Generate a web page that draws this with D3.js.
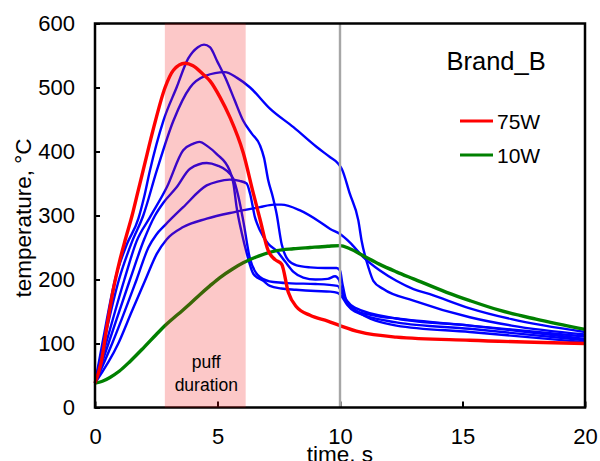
<!DOCTYPE html>
<html>
<head>
<meta charset="utf-8">
<script src="https://cdn.jsdelivr.net/npm/d3@7/dist/d3.min.js"></script>
<style>
  html, body { margin: 0; padding: 0; background: #fff; }
  svg { display: block; font-family: "Liberation Sans", Arial, sans-serif; }
</style>
</head>
<body>
<svg id="chart" width="600" height="461"></svg>
<script>
// Thermocouple temperature traces, [time s, temperature °C]
const red75W = [[0,38],[0.25,70],[0.5,130],[0.75,185],[1.0,228],[1.25,264],[1.5,298],[1.75,337],[2.0,376],[2.4,438],[2.86,500],[3.2,527],[3.67,538],[4.0,534],[4.4,521],[4.7,510],[5.1,485],[5.5,454],[6.05,398],[6.46,335],[6.73,295],[7.07,245],[7.35,231],[7.62,224],[7.89,180],[8.23,157],[8.78,144],[9.5,135],[10,128],[10.8,118],[12.3,110],[15.3,105],[20,100]];

const green10W = [[0,38],[0.3,41],[0.61,47],[1.0,57],[1.43,72],[2.0,94],[2.5,114],[2.86,128],[3.4,146],[3.88,162],[4.3,177],[4.69,190],[5.1,203],[5.6,216],[6.05,226],[6.7,237],[7.41,245],[8.1,248],[8.78,250],[9.5,252],[10,253],[10.4,248],[11,236],[11.6,224],[12.3,212],[13,201],[14.35,180],[15.3,167],[16.5,152],[18,138],[20,122]];

// Additional runs (blue)
const runA = [[0,38],[0.3,100],[0.82,200],[1.3,255],[1.77,295],[2.0,328],[2.24,370],[2.79,448],[3.33,500],[3.8,545],[4.2,563],[4.45,567],[4.69,563],[5.0,540],[5.37,511],[5.7,480],[6.05,448],[6.4,428],[6.73,410],[6.9,390],[7.07,355],[7.25,330],[7.41,303],[7.62,255],[7.89,230],[8.23,222],[8.78,219],[9.4,218],[9.86,218],[10.0,214],[10.1,193],[10.3,162],[10.6,152],[11.5,143],[12.3,139],[15.3,128],[20,111]];

const runB = [[0,38],[0.35,100],[0.98,200],[1.5,258],[1.97,300],[2.52,370],[3.2,448],[3.88,500],[4.5,518],[5.3,524],[5.8,515],[6.33,500],[7.14,467],[8.1,438],[9.05,407],[9.6,391],[9.93,381],[10.07,373],[10.4,334],[10.75,292],[10.88,261],[11.16,219],[11.36,198],[11.77,185],[13,167],[15.3,141],[17,128],[20,114]];

const runC = [[0,38],[0.45,100],[1.2,200],[1.7,260],[2.24,297],[2.93,344],[3.6,402],[4.0,412],[4.26,415],[4.6,408],[4.97,396],[5.5,370],[5.65,350],[5.78,313],[6.0,271],[6.2,240],[6.46,209],[6.87,198],[7.14,190],[7.6,186],[8.2,184],[9,182],[9.6,181],[9.9,179],[10.1,172],[10.3,160],[10.6,150],[12.3,133],[15.3,123],[20,105]];

const runD = [[0,38],[0.55,100],[1.43,200],[2.0,262],[2.45,300],[2.79,320],[3.33,344],[3.88,373],[4.56,382],[5.0,378],[5.37,370],[5.65,357],[5.85,330],[6.05,292],[6.33,232],[6.73,204],[7.28,196],[8.0,194],[9.0,193],[9.9,190],[10.1,177],[10.3,163],[10.6,153],[12.3,128],[15.3,118],[20,102]];

const runE = [[0,38],[0.7,100],[1.7,200],[2.18,250],[2.5,270],[2.86,285],[3.6,313],[4.56,347],[5.0,353],[5.5,356],[5.9,354],[6.19,350],[6.33,334],[6.53,297],[6.73,277],[7.07,256],[7.41,245],[7.76,228],[8.1,212],[8.5,203],[9.0,200],[9.5,201],[9.8,205],[9.95,200],[10.1,180],[10.3,166],[10.6,156],[12.3,139],[15.3,128],[20,107]];

const runF = [[0,38],[0.95,100],[1.5,150],[2.04,198],[2.52,240],[2.93,263],[3.6,282],[4.56,295],[5.65,305],[6.73,313],[7.3,317],[7.6,317],[8.37,308],[9.18,290],[9.6,279],[10,271],[10.4,258],[10.95,235],[11.63,214],[12.3,198],[13,185],[13.67,177],[15.3,155],[17,138],[20,118]];

const xTicks = [0, 5, 10, 15, 20];
const yTicks = [0, 100, 200, 300, 400, 500, 600];
const puffWindow = [2.85, 6.15];
const markerTime = 10;
const brandLabel = "Brand_B";
const legendItems = [{ label: "75W", color: "#ff0000" }, { label: "10W", color: "#008000" }];

const svg = d3.select("#chart");
const margin = { left: 95, right: 15, top: 23.5, bottom: 53.5 };
const W = 600, H = 461;

const x = d3.scaleLinear().domain([0, 20]).range([margin.left, W - margin.right]);
const y = d3.scaleLinear().domain([0, 600]).range([H - margin.bottom, margin.top]);

// Axes with inward ticks
const yAxis = d3.axisLeft(y).tickValues(yTicks).tickSizeInner(-5).tickSizeOuter(0).tickPadding(20);
const xAxis = d3.axisBottom(x).tickValues(xTicks).tickSizeInner(-6).tickSizeOuter(0).tickPadding(21);

const gy = svg.append("g").attr("transform", `translate(${margin.left},0)`).call(yAxis);
const gx = svg.append("g").attr("transform", `translate(0,${H - margin.bottom})`).call(xAxis);
[gx, gy].forEach(g => {
  g.select(".domain").remove();
  g.selectAll(".tick line").attr("stroke", "#000").attr("stroke-width", 2);
  g.selectAll(".tick text").attr("fill", "#000").style("font-size", "22px");
});

// Data lines
const line = d3.line().x(d => x(d[0])).y(d => y(d[1])).curve(d3.curveMonotoneX);
const blueRuns = [runA, runB, runC, runD, runE, runF];
const plot = svg.append("g");
blueRuns.forEach(r => {
  plot.append("path").datum(r).attr("d", line)
    .attr("fill", "none").attr("stroke", "#0000ff").attr("stroke-width", 2.4)
    .attr("stroke-linejoin", "round");
});
plot.append("path").datum(green10W).attr("d", line)
  .attr("fill", "none").attr("stroke", "#008000").attr("stroke-width", 3.4);
plot.append("path").datum(red75W).attr("d", line)
  .attr("fill", "none").attr("stroke", "#ff0000").attr("stroke-width", 3.4);

// End-of-puff-series marker
svg.append("line")
  .attr("x1", x(markerTime)).attr("x2", x(markerTime))
  .attr("y1", y(600)).attr("y2", y(0))
  .attr("stroke", "#a6a6a6").attr("stroke-width", 2.4);

// Plot frame
svg.append("rect")
  .attr("x", x(0)).attr("y", y(600))
  .attr("width", x(20) - x(0)).attr("height", y(0) - y(600))
  .attr("fill", "none").attr("stroke", "#000").attr("stroke-width", 2.5);

// Puff duration band, laid over the traces
svg.append("rect")
  .attr("x", x(puffWindow[0])).attr("y", y(600))
  .attr("width", x(puffWindow[1]) - x(puffWindow[0]))
  .attr("height", y(0) - y(600))
  .attr("fill", "#f21919").attr("fill-opacity", 0.24);

const bandMid = (x(puffWindow[0]) + x(puffWindow[1])) / 2 + 1;
svg.append("text").attr("x", bandMid).attr("y", 368)
  .attr("text-anchor", "middle").style("font-size", "17.5px").text("puff");
svg.append("text").attr("x", bandMid).attr("y", 391)
  .attr("text-anchor", "middle").style("font-size", "17.5px").text("duration");

// Axis titles
svg.append("text")
  .attr("transform", `translate(31,${218}) rotate(-90)`)
  .attr("text-anchor", "middle").style("font-size", "22.5px")
  .text("temperature, °C");
svg.append("text")
  .attr("x", x(10)).attr("y", 462)
  .attr("text-anchor", "middle").style("font-size", "22.5px")
  .text("time, s");

// Legend
svg.append("text").attr("x", 446.5).attr("y", 70)
  .style("font-size", "25.5px").text(brandLabel);
legendItems.forEach((it, i) => {
  const ly = 121 + i * 34;
  svg.append("line").attr("x1", 460).attr("x2", 493).attr("y1", ly).attr("y2", ly)
    .attr("stroke", it.color).attr("stroke-width", 3);
  svg.append("text").attr("x", 497).attr("y", ly + 7.5)
    .style("font-size", "21px").text(it.label);
});
</script>
</body>
</html>
